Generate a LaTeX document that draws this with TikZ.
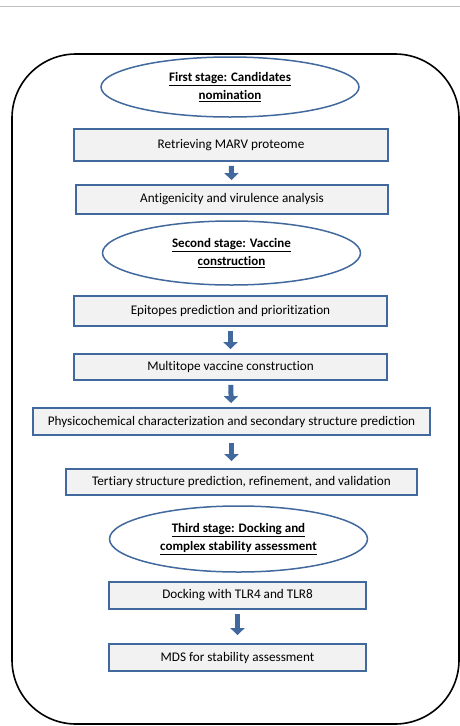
\documentclass[tikz,border=0pt]{standalone}
\usepackage{fontspec}
\setmainfont{Carlito}[Ligatures=NoCommon]
\usetikzlibrary{shapes.geometric,arrows.meta}

\definecolor{stageblue}{HTML}{41699D}
\definecolor{taskgray}{HTML}{F2F2F2}

\tikzset{
	stage/.style={ellipse, draw=stageblue, line width=1.5pt, inner sep=0pt,
		minimum width=258pt, align=center,
		font=\bfseries\fontsize{13}{18}\selectfont},
	task/.style={rectangle, draw=stageblue, fill=taskgray, line width=1.8pt,
		inner sep=0pt, font=\fontsize{13.2}{15}\selectfont},
	flow/.style={-{Triangle[width=14pt,length=7pt]}, draw=stageblue,
		line width=5pt, shorten <=4pt, shorten >=4pt},
}

\begin{document}
\begin{tikzpicture}[x=1pt,y=-1pt]
\useasboundingbox (0,0) rectangle (460,726);

\draw[gray!50, line width=1pt] (0,6) -- (460,6);
\draw[line width=1.6pt, rounded corners=64pt] (12,54) rectangle (459,724);

\node[stage, minimum height=60pt] (s1) at (230,87)
	{\underline{First stage: Candidates}\\\underline{nomination}};
\node[task, minimum width=314pt, minimum height=32pt] (t1) at (231,145)
	{Retrieving MARV proteome};
\node[task, minimum width=312pt, minimum height=29pt] (t2) at (232,199.5)
	{Antigenicity and virulence analysis};

\node[stage, minimum height=64pt] (s2) at (231.5,253)
	{\underline{Second stage: Vaccine}\\\underline{construction}};
\node[task, minimum width=313pt, minimum height=30pt] (t3) at (230.5,311)
	{Epitopes prediction and prioritization};
\node[task, minimum width=313pt, minimum height=26pt] (t4) at (230.5,367)
	{Multitope vaccine construction};
\node[task, minimum width=397pt, minimum height=27pt] (t5) at (231.5,421.5)
	{Physicochemical characterization and secondary structure prediction};
\node[task, minimum width=351pt, minimum height=26pt] (t6) at (241.5,482)
	{Tertiary structure prediction, refinement, and validation};

\node[stage, minimum height=66pt] (s3) at (238.5,539)
	{\underline{Third stage: Docking and}\\\underline{complex stability assessment}};
\node[task, minimum width=257pt, minimum height=27pt] (t7) at (237.5,595.5)
	{Docking with TLR4 and TLR8};
\node[task, minimum width=257pt, minimum height=27pt] (t8) at (237.5,657.5)
	{MDS for stability assessment};

\draw[flow] (t1) -- (t2);
\draw[flow] (t3) -- (t4);
\draw[flow] (t4) -- (t5);
\draw[flow, shorten <=7pt, shorten >=7pt] (t5.south) -- (t5.south |- t6.north);
\draw[flow, shorten >=8pt] (t7) -- (t8);

\end{tikzpicture}
\end{document}
